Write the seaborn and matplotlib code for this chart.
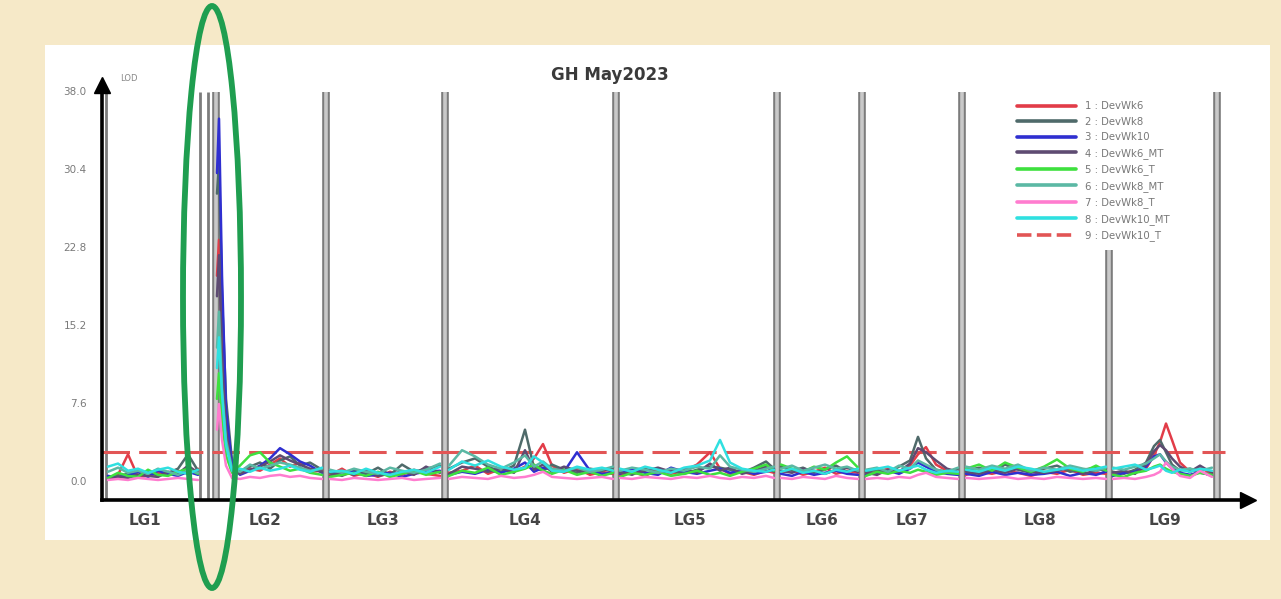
import numpy as np
import pandas as pd
import matplotlib
matplotlib.use("Agg")
import matplotlib.pyplot as plt
from matplotlib.patches import Rectangle, Ellipse
from matplotlib.lines import Line2D
import seaborn as sns

sns.set_style("white")
plt.rcParams["font.family"] = ["DejaVu Sans"]

# ---- data (positions along the genome, LOD per trait) ----
lg_names = ["LG1", "LG2", "LG3", "LG4", "LG5", "LG6", "LG7", "LG8", "LG9"]
lg_pos = {
    "LG1": [6, 16, 26, 36, 46, 56, 66, 76, 86, 96],
    "LG2": [115, 117, 120, 124, 130, 138, 148, 158, 168, 178, 188, 198, 208, 220],
    "LG3": [228, 240, 252, 264, 276, 288, 300, 312, 324, 338],
    "LG4": [347, 360, 373, 386, 399, 412, 423, 432, 441, 450, 462, 475, 488, 500, 511],
    "LG5": [518, 530, 543, 556, 569, 582, 595, 608, 618, 628, 640, 652, 664, 672],
    "LG6": [679, 690, 701, 712, 723, 734, 745, 756],
    "LG7": [764, 775, 786, 797, 808, 816, 824, 834, 845, 856],
    "LG8": [864, 877, 890, 903, 916, 929, 942, 955, 968, 981, 994, 1004],
    "LG9": [1011, 1022, 1033, 1044, 1052, 1058, 1064, 1070, 1078, 1088, 1098, 1110],
}
lg_label_x = [43, 163, 281, 423, 588, 720, 810, 938, 1063]
lg_bounds = [4, 98, 106, 114, 224, 343, 514, 675, 760, 860, 1007, 1115]
lg_bound_top = [37.9, 37.9, 37.9, 37.9, 37.9, 37.9, 37.9, 37.9, 37.9, 37.9, 22.5, 37.9]

trait_labels = ["1 : DevWk6", "2 : DevWk8", "3 : DevWk10", "4 : DevWk6_MT",
                "5 : DevWk6_T", "6 : DevWk8_MT", "7 : DevWk8_T",
                "8 : DevWk10_MT", "9 : DevWk10_T"]
threshold = 2.83

lod_1 = [0.3, 0.6, 2.6, 0.4, 0.5, 0.8, 0.6, 1.0, 0.7, 1.2,
         20.0, 23.5, 14.0, 6.0, 1.5, 0.8, 1.2, 1.0, 1.6, 2.2, 1.4, 1.8, 0.9, 1.0,
         0.6, 1.2, 0.5, 0.8, 0.4, 0.9, 0.6, 1.1, 0.7, 0.5,
         0.8, 1.0, 1.5, 0.7, 1.2, 0.9, 1.4, 2.2, 3.6, 1.5, 0.8, 1.2, 0.6, 0.9, 0.7,
         0.6, 0.9, 0.5, 1.1, 0.7, 1.0, 1.6, 2.8, 1.2, 0.7, 0.9, 0.6, 1.0, 0.8,
         0.8, 1.1, 0.6, 0.9, 1.3, 0.7, 1.0, 0.8,
         0.7, 0.9, 1.2, 0.8, 1.5, 2.6, 3.3, 1.6, 1.0, 0.8,
         0.6, 0.9, 0.7, 1.0, 0.8, 0.5, 0.9, 0.7, 1.1, 0.6, 0.8, 0.7,
         0.6, 0.8, 1.0, 1.2, 2.5, 3.8, 5.6, 4.0, 1.8, 0.9, 1.3, 0.7]
lod_2 = [0.4, 0.5, 0.7, 0.6, 0.9, 0.5, 0.8, 1.2, 2.6, 1.0,
         28.0, 31.0, 18.0, 8.0, 2.0, 1.0, 1.4, 1.8, 1.2, 2.0, 2.4, 1.5, 1.8, 1.1,
         0.8, 0.5, 1.0, 0.7, 1.3, 0.6, 1.6, 0.9, 1.2, 1.5,
         1.2, 1.8, 2.2, 1.4, 0.9, 1.5, 5.0, 1.3, 1.0, 1.6, 1.1, 0.8, 1.2, 1.0, 1.3,
         0.9, 0.6, 1.2, 0.8, 1.0, 0.7, 1.1, 1.4, 1.3, 1.1, 0.8, 1.3, 1.9, 1.2,
         1.4, 1.0, 1.3, 0.8, 1.1, 1.5, 0.9, 1.2,
         0.9, 1.1, 0.8, 1.4, 2.0, 4.3, 2.2, 1.1, 0.9, 1.2,
         1.0, 1.3, 0.9, 1.6, 1.1, 0.8, 1.2, 1.5, 0.9, 1.1, 1.3, 0.9,
         0.9, 0.7, 1.1, 1.8, 3.4, 4.0, 2.8, 1.6, 1.0, 1.2, 0.8, 0.6]
lod_3 = [0.5, 0.3, 0.6, 0.9, 0.4, 1.0, 0.7, 0.5, 0.9, 0.6,
         30.0, 35.3, 20.0, 7.0, 1.5, 0.6, 1.0, 1.5, 2.2, 3.2, 2.6, 1.9, 1.5, 0.8,
         1.0, 0.7, 0.9, 0.5, 0.6, 0.8, 0.4, 0.7, 0.9, 1.0,
         0.6, 0.9, 0.7, 1.1, 0.8, 1.2, 1.8, 0.9, 1.3, 1.1, 0.9, 2.8, 1.0, 0.7, 0.8,
         0.7, 1.2, 0.8, 0.6, 1.3, 0.9, 0.7, 1.0, 1.2, 0.8, 1.0, 0.7, 0.9, 1.1,
         0.7, 0.5, 0.9, 0.6, 0.8, 1.0, 0.7, 0.6,
         0.6, 0.8, 1.0, 0.7, 1.2, 1.8, 1.4, 0.9, 0.7, 0.6,
         0.7, 0.5, 0.9, 0.6, 0.8, 0.6, 0.7, 0.9, 0.5, 0.8, 0.6, 0.9,
         0.5, 0.8, 0.9, 1.4, 2.4, 2.6, 1.8, 1.2, 0.8, 0.6, 0.9, 0.5]
lod_4 = [0.2, 0.4, 0.3, 0.6, 0.5, 0.4, 0.9, 0.7, 1.5, 0.8,
         18.0, 22.0, 12.0, 5.0, 1.0, 0.7, 1.1, 1.4, 1.9, 2.5, 2.0, 1.6, 1.2, 0.9,
         0.5, 0.9, 0.6, 1.1, 0.5, 0.7, 0.9, 0.6, 1.4, 0.8,
         0.7, 1.4, 1.2, 0.9, 1.3, 0.8, 3.0, 1.1, 1.6, 0.9, 1.4, 1.0, 0.8, 1.2, 0.9,
         0.8, 0.7, 1.0, 1.3, 0.9, 1.2, 0.8, 1.7, 1.0, 1.3, 0.7, 1.0, 1.4, 0.9,
         1.0, 0.8, 1.2, 1.0, 0.7, 1.1, 1.3, 0.9,
         0.8, 0.6, 1.1, 0.9, 1.7, 3.2, 2.8, 2.0, 1.2, 0.9,
         0.9, 0.7, 1.1, 0.8, 1.2, 0.9, 0.8, 1.0, 1.3, 0.7, 1.0, 1.2,
         0.8, 1.0, 0.7, 1.6, 2.9, 3.5, 3.0, 2.2, 1.4, 0.9, 1.5, 0.8]
lod_5 = [0.3, 0.8, 0.5, 0.4, 1.1, 0.6, 0.5, 0.9, 1.2, 0.7,
         8.0, 10.5, 6.0, 2.5, 0.8, 1.5, 2.5, 2.8, 1.8, 1.4, 1.0, 1.2, 0.8, 0.6,
         0.4, 0.6, 0.8, 0.5, 0.9, 0.4, 0.7, 1.0, 0.6, 0.9,
         0.5, 1.0, 0.8, 1.3, 0.6, 0.9, 1.2, 1.6, 1.0, 0.7, 1.1, 0.6, 0.9, 0.5, 0.8,
         0.4, 0.8, 0.6, 0.9, 0.5, 0.7, 1.0, 0.6, 0.8, 0.5, 0.9, 1.2, 1.6, 1.0,
         1.6, 1.2, 0.9, 1.4, 1.1, 1.8, 2.4, 1.3,
         0.5, 0.9, 0.7, 1.0, 0.8, 1.1, 0.9, 0.6, 0.8, 0.7,
         1.2, 1.6, 1.0, 1.8, 1.3, 0.9, 1.4, 2.1, 1.2, 0.9, 1.5, 1.0,
         0.6, 0.4, 0.8, 1.0, 1.4, 1.6, 1.2, 0.9, 0.7, 0.5, 0.8, 0.6]
lod_6 = [0.9, 1.3, 0.8, 1.0, 0.7, 1.2, 0.9, 0.6, 1.0, 0.8,
         13.0, 16.5, 9.0, 4.0, 1.2, 0.9, 1.6, 1.2, 1.5, 1.8, 1.6, 1.3, 1.0, 1.2,
         1.1, 0.8, 1.2, 0.9, 0.7, 1.3, 1.0, 0.8, 1.1, 1.7,
         1.5, 3.0, 2.4, 1.6, 1.2, 1.8, 2.5, 1.4, 1.9, 1.2, 1.0, 1.3, 0.9, 1.1, 1.4,
         1.0, 1.3, 1.1, 0.8, 1.2, 1.0, 1.4, 1.2, 2.5, 1.4, 1.1, 0.9, 1.2, 1.4,
         1.2, 1.5, 1.0, 1.3, 1.6, 1.2, 1.4, 1.0,
         1.1, 1.3, 0.9, 1.5, 1.2, 2.0, 1.6, 1.1, 0.9, 1.3,
         1.4, 1.1, 1.5, 1.2, 1.6, 1.0, 1.3, 1.1, 1.5, 1.2, 1.0, 1.3,
         1.3, 1.1, 1.4, 1.7, 2.2, 2.6, 1.9, 1.4, 1.1, 1.2, 1.0, 1.3]
lod_7 = [0.1, 0.2, 0.1, 0.3, 0.2, 0.1, 0.2, 0.3, 0.2, 0.1,
         5.0, 7.5, 4.0, 1.5, 0.3, 0.2, 0.4, 0.3, 0.5, 0.6, 0.4, 0.5, 0.3, 0.2,
         0.2, 0.1, 0.3, 0.2, 0.1, 0.2, 0.3, 0.1, 0.2, 0.3,
         0.2, 0.4, 0.3, 0.2, 0.5, 0.3, 0.4, 0.6, 0.9, 0.4, 0.3, 0.2, 0.3, 0.4, 0.2,
         0.3, 0.2, 0.4, 0.3, 0.2, 0.4, 0.3, 0.5, 0.3, 0.2, 0.4, 0.3, 0.5, 0.3,
         0.3, 0.2, 0.4, 0.3, 0.2, 0.5, 0.3, 0.2,
         0.2, 0.3, 0.2, 0.4, 0.3, 0.6, 0.8, 0.4, 0.3, 0.2,
         0.3, 0.2, 0.3, 0.4, 0.2, 0.3, 0.2, 0.4, 0.3, 0.2, 0.3, 0.2,
         0.2, 0.3, 0.2, 0.4, 0.6, 0.9, 1.8, 1.2, 0.5, 0.3, 1.0, 0.4]
lod_8 = [1.4, 1.7, 1.0, 1.2, 0.8, 1.1, 1.3, 0.9, 0.7, 1.1,
         11.0, 14.0, 8.5, 3.5, 1.0, 1.2, 0.9, 1.3, 1.0, 1.2, 1.5, 1.1, 0.9, 1.3,
         0.9, 1.0, 0.7, 1.2, 0.8, 0.6, 0.9, 1.1, 0.8, 1.4,
         1.1, 1.9, 1.5, 2.0, 1.4, 1.1, 1.3, 2.4, 1.8, 1.0, 0.9, 1.4, 1.1, 1.3, 1.0,
         1.2, 0.9, 1.4, 1.1, 0.8, 1.3, 1.5, 2.0, 4.0, 1.8, 1.2, 1.0, 0.9, 1.1,
         0.9, 1.2, 0.8, 1.0, 0.7, 1.1, 0.9, 1.2,
         1.0, 1.2, 1.4, 1.0, 1.3, 1.5, 1.1, 0.8, 1.0, 0.9,
         1.1, 0.9, 1.3, 1.0, 1.4, 1.2, 0.9, 1.1, 1.3, 1.0, 1.2, 1.4,
         1.2, 1.4, 1.6, 1.1, 1.3, 1.5, 1.0, 0.8, 1.1, 0.9, 1.2, 1.0]

trait_colors = ["#e23c48", "#4f6a6a", "#2f2fd0", "#5e4b72", "#3ee03e",
                "#5bb8a4", "#ff7ccf", "#2fe0e0", "#e25555"]

# ---- long-form table ----
pos_all = [p for lg in lg_names for p in lg_pos[lg]]
lg_all = [lg for lg in lg_names for _ in lg_pos[lg]]
series = [lod_1, lod_2, lod_3, lod_4, lod_5, lod_6, lod_7, lod_8]
rows = []
for lab, vals in zip(trait_labels[:8], series):
    for p, lg, v in zip(pos_all, lg_all, vals):
        rows.append((lab, lg, p, v))
df = pd.DataFrame(rows, columns=["trait", "lg", "pos", "lod"])

# ---- figure ----
W, H = 1281, 599
fig = plt.figure(figsize=(W / 100, H / 100), dpi=100)
fig.patch.set_facecolor("#f6e9c8")
fig.add_artist(Rectangle((45 / W, 1 - 540 / H), 1225 / W, 495 / H,
                         transform=fig.transFigure, facecolor="white",
                         edgecolor="none", zorder=-5))

ax = fig.add_axes([102 / W, 99 / H, 1146 / W, 415 / H])
ax.set_facecolor("none")
ax.set_xlim(0, 1146)
ax.set_ylim(-1.85, 38.58)

# chromosome boundary bars
for xb, top in zip(lg_bounds, lg_bound_top):
    lw_out = 2.0 if xb in (4, 98, 106) else 5.5
    ax.plot([xb, xb], [-1.85, top], color="#7c7c7c", lw=lw_out, zorder=1,
            solid_capstyle="butt")
    if lw_out > 3:
        ax.plot([xb, xb], [-1.85, top], color="#c9c9c9", lw=2.6, zorder=1.1,
                solid_capstyle="butt")

# threshold (dashed)
ax.plot([0, 1123], [threshold, threshold], color=trait_colors[8], lw=2.2,
        ls=(0, (9, 3)), zorder=2)

pal = dict(zip(trait_labels[:8], trait_colors[:8]))
sns.lineplot(data=df, x="pos", y="lod", hue="trait", units="lg",
             estimator=None, palette=pal, lw=1.8, legend=False, ax=ax,
             zorder=3)

# axes styling
sns.despine(ax=ax, top=True, right=True)
ax.spines["left"].set_linewidth(2.6)
ax.spines["bottom"].set_linewidth(2.6)
ax.spines["left"].set_color("black")
ax.spines["bottom"].set_color("black")
ax.plot([0], [1], marker="^", ms=11, color="black", transform=ax.transAxes,
        clip_on=False)
ax.plot([1], [0], marker=">", ms=11, color="black", transform=ax.transAxes,
        clip_on=False)

yticks = [0.0, 7.6, 15.2, 22.8, 30.4, 38.0]
ax.set_yticks(yticks)
ax.set_yticklabels([f"{t:.1f}" for t in yticks], color="#7a7a7a", fontsize=7.5)
ax.tick_params(axis="y", direction="inout", length=10, width=2, color="black",
               pad=6)
ax.set_xticks([])
ax.set_xlabel("")
ax.set_ylabel("")
ax.text(0.016, 1.005, "LOD", transform=ax.transAxes, fontsize=6,
        color="#888888", va="bottom")

for name, xl in zip(lg_names, lg_label_x):
    ax.text(xl, -3.8, name, ha="center", va="center", fontsize=11,
            fontweight="bold", color="#454545", clip_on=False)

fig.text(610 / W, 1 - 75 / H, "GH May2023", ha="center", va="center",
         fontsize=12, fontweight="bold", color="#3a3a3a")

# legend
handles = [Line2D([], [], color=c, lw=2.6) for c in trait_colors[:8]]
handles.append(Line2D([], [], color=trait_colors[8], lw=2.6, ls=(0, (4, 1.5))))
leg = fig.legend(handles, trait_labels, loc="upper left",
                 bbox_to_anchor=(1008 / W, 1 - 92 / H), frameon=False,
                 fontsize=7.3, handlelength=5.8, handletextpad=0.9,
                 labelspacing=0.55)
for t in leg.get_texts():
    t.set_color("#777777")

# highlight ellipse
fig.add_artist(Ellipse((212 / W, 1 - 297 / H), 58 / W, 582 / H,
                       transform=fig.transFigure, fill=False,
                       edgecolor="#1f9e50", lw=4.2, zorder=10))

fig.savefig("out.png", dpi=100)
